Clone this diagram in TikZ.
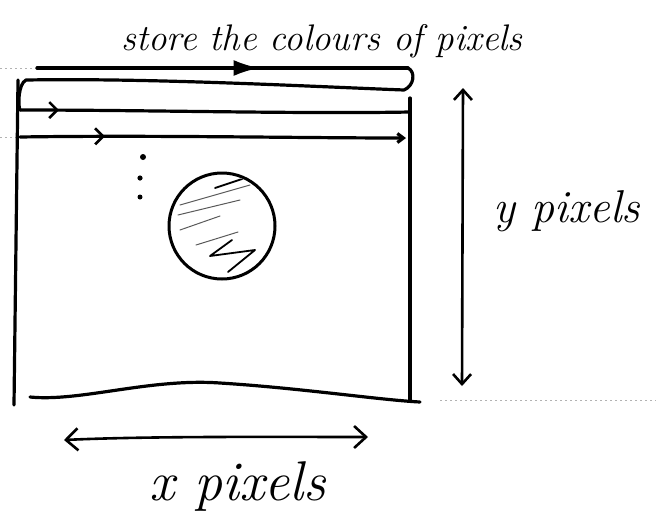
\documentclass[tikz,border=0pt]{standalone}
\usetikzlibrary{arrows.meta,decorations.markings}
\begin{document}
\begin{tikzpicture}[x=1pt,y=-1pt,
  pen/.style={line width=3.2pt,line cap=round,line join=round},
  thinpen/.style={line width=1pt,line cap=round,line join=round},
  rule/.style={gray!60,line width=0.6pt,dash pattern=on 2pt off 3pt},
  hand/.style={font=\itshape\fontsize{37}{44}\selectfont,inner sep=0pt},
  bigtip/.style={decoration={markings,mark=at position #1 with {\arrow{Latex[length=26pt,width=16pt]}}},postaction=decorate},
  chev/.style={decoration={markings,mark=at position #1 with {\arrow[line width=2.6pt]{Straight Barb[length=8pt,width=16pt]}}},postaction=decorate},
  barb/.style={line width=2.6pt,line cap=round}
]
\useasboundingbox (0,0) rectangle (656,531);
% paper rules
\draw[rule] (0,68) -- (37,68);
\draw[rule] (0,137) -- (22,137);
\draw[rule] (440,400) -- (656,400);

% coordinates
\coordinate (a1) at (37,68);
\coordinate (a2) at (408,68);
\coordinate (b1) at (404,90);
\coordinate (b2) at (26,80);
\coordinate (c0) at (20,110);
\coordinate (c2) at (410,112);
\coordinate (d1) at (20,137);
\coordinate (d2) at (406,138);
\coordinate (tl) at (18,80);
\coordinate (bl) at (14,405);
\coordinate (tr) at (410,98);
\coordinate (br) at (410,400);
\coordinate (bot1) at (30,397);
\coordinate (bot2) at (420,402);

% scan path
\draw[pen,bigtip=0.6] (a1) -- (a2);
\draw[pen] (a2) .. controls (416,72) and (414,86) .. (b1)
  .. controls (300,86) and (150,78) .. (b2)
  .. controls (18,84) and (18,106) .. (c0);
\draw[pen,chev=0.1] (c0) .. controls (150,110) and (300,114) .. (c2);
\draw[pen,chev=0.22,-{Straight Barb[length=6pt,width=9pt]}] (d1) .. controls (150,135) and (300,138) .. (d2);

% image frame
\draw[pen] (tl) -- (bl);
\draw[pen] (tr) -- (br);
\draw[pen] (bot1) .. controls (80,402) and (150,378) .. (220,383)
  .. controls (300,388) and (380,400) .. (bot2);

% dots
\fill (143,157) circle (3pt);
\fill (140,178) circle (2.6pt);
\fill (140,197) circle (2.5pt);

% ball
\node[circle,draw,line width=3pt,minimum width=106pt,inner sep=0pt] (ball) at (222,226) {};
\begin{scope}
\clip (ball.center) circle (51pt);
\draw[thinpen,gray!70!black] (180,205) -- (250,185) (178,215) -- (240,200) (180,230) -- (220,216)
  (196,245) -- (238,232);
\draw[line width=1.8pt,line cap=round,line join=round] (215,188) -- (245,178)
  (232,240) -- (210,256) -- (255,250) -- (228,272);
\end{scope}

% y dimension
\coordinate (yt) at (463,88);
\coordinate (yb) at (462,386);
\draw[barb,{Straight Barb[length=10pt,width=18pt]}-{Straight Barb[length=10pt,width=18pt]}] (yt) -- (yb);

% x dimension
\coordinate (xl) at (64,440);
\coordinate (xr) at (368,437);
\draw[barb,{Straight Barb[length=12pt,width=22pt]}-{Straight Barb[length=12pt,width=22pt]}] (xl) .. controls (150,436) and (280,437) .. (xr);

% labels
\node[hand,anchor=base] (title) at (322,50) {store the colours of pixels};
\node[hand,font=\itshape\fontsize{46}{54}\selectfont,anchor=base] (ylab) at (567,222) {y pixels};
\node[hand,font=\itshape\fontsize{56}{64}\selectfont,anchor=base] (xlab) at (238,500) {x pixels};
\end{tikzpicture}
\end{document}
